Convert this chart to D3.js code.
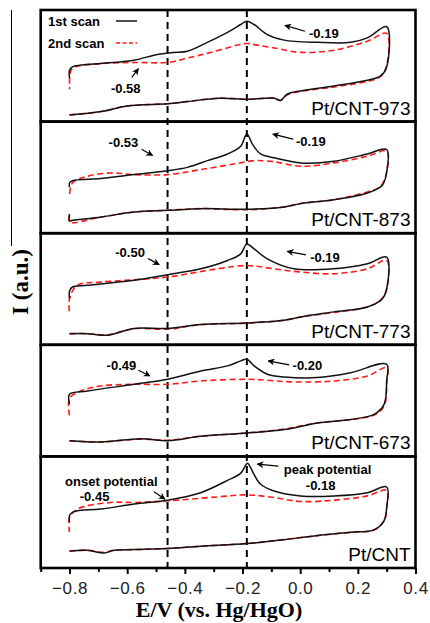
<!DOCTYPE html>
<html>
<head>
<meta charset="utf-8">
<script src="https://cdn.jsdelivr.net/npm/d3@7/dist/d3.min.js"></script>
<style>
  body { margin: 0; background: #fff; }
  svg { display: block; }
  .tick text { font-family: "Liberation Sans", Arial, sans-serif; }
</style>
</head>
<body>
<div id="chart"></div>
<script>
// panel names, top to bottom
var panelNames = ['Pt/CNT-973', 'Pt/CNT-873', 'Pt/CNT-773', 'Pt/CNT-673', 'Pt/CNT'];

// x axis ticks (E/V)
var majorTicks = [-0.8, -0.6, -0.4, -0.2, 0.0, 0.2, 0.4];
var minorTicks = [-0.9, -0.7, -0.5, -0.3, -0.1, 0.1, 0.3];

// guide lines: onset and peak potential
var guideLines = [-0.46, -0.185];

// CV loops, [E (V), I (a.u.)]: lower branch, right side, upper branch back to -0.8
var scan1_973 = [[-0.80,0.6],[-0.69,0.9],[-0.60,1.4],[-0.46,1.6],[-0.39,1.8],[-0.28,2.1],[-0.18,2.0],[-0.09,2.1],[-0.068,1.9],[-0.045,2.45],[0.0,2.75],[0.117,3.2],[0.233,3.7],[0.279,4.1],[0.30,4.9],[0.30,8.5],
  [0.233,7.5],[0.175,7.1],[0.06,7.1],[-0.056,7.3],[-0.114,7.8],[-0.16,8.7],[-0.185,9.0],[-0.206,8.7],[-0.252,8.0],[-0.322,7.1],[-0.391,6.3],[-0.44,6.2],[-0.50,6.0],[-0.576,5.5],[-0.692,5.2],[-0.79,4.9],[-0.80,4.6],[-0.80,3.9]];
var scan2_973 = [[-0.80,0.6],[-0.69,0.9],[-0.60,1.4],[-0.46,1.6],[-0.39,1.8],[-0.28,2.1],[-0.18,2.0],[-0.09,2.1],[-0.068,1.9],[-0.045,2.4],[0.0,2.7],[0.117,3.1],[0.233,3.6],[0.27,3.9],[0.295,4.6],[0.30,7.9],
  [0.233,7.2],[0.117,6.4],[0.0,6.2],[-0.09,6.6],[-0.16,6.9],[-0.185,7.0],[-0.31,6.2],[-0.39,5.7],[-0.46,5.3],[-0.576,5.3],[-0.69,5.2],[-0.78,4.9],[-0.795,4.6],[-0.80,2.9]];

var scan1_873 = [[-0.80,1.7],[-0.80,1.1],[-0.79,1.15],[-0.69,1.45],[-0.576,1.9],[-0.46,2.05],[-0.345,2.2],[-0.183,2.15],[-0.056,2.35],[0.0,2.65],[0.117,3.0],[0.233,3.6],[0.285,4.3],[0.30,5.5],[0.30,7.5],
  [0.233,7.1],[0.117,6.45],[0.002,6.3],[-0.079,6.7],[-0.137,7.1],[-0.166,8.0],[-0.185,8.9],[-0.206,7.8],[-0.252,7.1],[-0.322,6.5],[-0.391,5.9],[-0.46,5.6],[-0.576,5.25],[-0.69,4.9],[-0.79,4.7],[-0.80,4.5],[-0.80,4.1]];
var scan2_873 = [[-0.80,1.6],[-0.80,1.0],[-0.69,1.45],[-0.576,1.9],[-0.46,2.05],[-0.345,2.2],[-0.183,2.1],[-0.056,2.35],[0.0,2.65],[0.117,3.0],[0.233,3.7],[0.279,4.2],[0.30,5.5],[0.30,7.35],
  [0.233,6.9],[0.117,6.3],[0.002,6.0],[-0.091,6.4],[-0.16,6.5],[-0.229,6.2],[-0.345,5.7],[-0.46,5.25],[-0.576,5.25],[-0.657,5.4],[-0.738,5.1],[-0.79,4.5],[-0.80,3.3]];

var scan1_773 = [[-0.80,1.0],[-0.738,1.0],[-0.669,0.86],[-0.576,1.46],[-0.46,1.46],[-0.345,1.81],[-0.183,1.96],[-0.056,2.2],[0.002,2.5],[0.117,2.95],[0.233,3.39],[0.285,4.13],[0.30,5.0],[0.30,7.86],
  [0.233,7.26],[0.117,6.81],[-0.022,6.81],[-0.114,7.7],[-0.16,8.6],[-0.185,9.04],[-0.206,8.15],[-0.252,7.56],[-0.345,6.81],[-0.46,6.28],[-0.576,5.78],[-0.738,5.33],[-0.79,5.18],[-0.80,4.8],[-0.80,4.13]];
var scan2_773 = [[-0.80,1.0],[-0.738,1.0],[-0.669,0.9],[-0.576,1.45],[-0.46,1.4],[-0.345,1.8],[-0.183,1.95],[-0.056,2.2],[0.002,2.5],[0.117,2.9],[0.233,3.4],[0.279,4.0],[0.30,5.0],[0.30,7.56],
  [0.233,6.81],[0.117,6.37],[0.002,6.52],[-0.091,6.81],[-0.183,7.1],[-0.287,6.81],[-0.46,6.07],[-0.576,5.83],[-0.692,5.62],[-0.773,5.33],[-0.80,4.13],[-0.80,2.8]];

var scan1_673 = [[-0.80,1.41],[-0.692,1.29],[-0.553,1.59],[-0.46,1.41],[-0.345,1.8],[-0.183,2.1],[-0.056,2.4],[0.06,3.0],[0.175,3.31],[0.256,3.76],[0.291,4.66],[0.30,6.76],[0.30,8.26],
  [0.175,7.5],[0.06,7.06],[-0.056,7.12],[-0.114,7.36],[-0.16,8.11],[-0.185,8.71],[-0.206,8.56],[-0.252,8.11],[-0.345,7.66],[-0.46,6.91],[-0.576,6.46],[-0.738,5.86],[-0.80,5.56],[-0.80,4.66]];
var scan2_673 = [[-0.80,1.4],[-0.692,1.3],[-0.553,1.55],[-0.46,1.45],[-0.345,1.8],[-0.183,2.1],[-0.056,2.45],[0.06,3.0],[0.175,3.3],[0.256,3.7],[0.291,4.5],[0.30,6.5],[0.30,7.95],
  [0.233,7.2],[0.117,6.76],[-0.022,6.67],[-0.114,6.82],[-0.183,6.91],[-0.345,6.76],[-0.46,6.46],[-0.576,6.46],[-0.692,6.31],[-0.761,5.86],[-0.80,5.2],[-0.80,3.6]];

var scan1_cnt = [[-0.80,1.53],[-0.738,1.59],[-0.68,1.35],[-0.645,1.59],[-0.576,1.65],[-0.46,1.74],[-0.345,1.95],[-0.183,2.19],[-0.056,2.54],[0.06,2.92],[0.175,3.21],[0.256,3.42],[0.291,4.25],[0.30,5.42],[0.30,7.26],
  [0.233,6.75],[0.117,6.46],[0.002,6.46],[-0.091,6.9],[-0.137,7.5],[-0.16,8.38],[-0.172,9.0],[-0.183,9.38],[-0.206,8.5],[-0.252,7.85],[-0.345,6.75],[-0.46,6.08],[-0.576,5.73],[-0.692,5.28],[-0.773,5.13],[-0.79,4.98],[-0.80,4.7],[-0.80,4.1]];
var scan2_cnt = [[-0.80,1.5],[-0.738,1.6],[-0.68,1.4],[-0.645,1.6],[-0.576,1.65],[-0.46,1.75],[-0.345,1.95],[-0.183,2.2],[-0.056,2.55],[0.06,2.9],[0.175,3.2],[0.256,3.4],[0.291,4.2],[0.30,5.4],[0.30,6.96],
  [0.233,6.46],[0.117,6.08],[0.002,5.96],[-0.091,6.31],[-0.183,6.55],[-0.287,6.37],[-0.46,6.02],[-0.576,5.87],[-0.657,5.87],[-0.773,5.28],[-0.80,4.5],[-0.80,3.21]];

var firstScans = [scan1_973, scan1_873, scan1_773, scan1_673, scan1_cnt];
var secondScans = [scan2_973, scan2_873, scan2_773, scan2_673, scan2_cnt];

// annotation texts per panel: [panel, E, I, text]
var noteTexts = [
  [0, 0.082, 7.89, '-0.19'], [0, -0.605, 2.94, '-0.58'],
  [1, 0.037, 8.18, '-0.19'], [1, -0.613, 8.12, '-0.53'],
  [2, 0.086, 7.79, '-0.19'], [2, -0.590, 8.26, '-0.50'],
  [3, 0.025, 8.17, '-0.20'], [3, -0.620, 8.14, '-0.49'],
  [4, 0.095, 8.82, 'peak potential'], [4, 0.071, 7.43, '-0.18'],
  [4, -0.655, 7.79, 'onset potential'], [4, -0.713, 6.40, '-0.45']
];
// arrows: [panel, E tail, I tail, E head, I head]
var noteArrows = [
  [0, 0.017, 8.10, -0.053, 8.62], [0, -0.584, 3.97, -0.561, 4.74],
  [1, -0.024, 8.43, -0.095, 8.88], [1, -0.550, 7.52, -0.512, 6.97],
  [2, 0.020, 8.06, -0.045, 8.37], [2, -0.527, 7.72, -0.489, 7.19],
  [3, -0.038, 8.20, -0.111, 8.56], [3, -0.561, 7.72, -0.521, 7.21],
  [4, -0.076, 9.12, -0.149, 9.31], [4, -0.507, 6.84, -0.469, 6.17]
];

var W = 430, H = 623;
var m = {t:10, r:14.5, b:55, l:40.7};

var svg = d3.select('#chart').append('svg')
    .attr('width', W)
    .attr('height', H);

var defs = svg.append('defs');
defs.append('marker')
    .attr('id','head')
    .attr('viewBox','0 0 10 10')
    .attr('refX',9).attr('refY',5)
    .attr('markerWidth',7).attr('markerHeight',7)
    .attr('markerUnits','userSpaceOnUse')
    .attr('orient','auto')
  .append('path')
    .attr('d','M0,0 L10,5 L0,10 L3,5 Z')
    .attr('fill','#000');

var x = d3.scaleLinear().domain([-0.9, 0.4]).range([m.l, W - m.r]);
var panelY = d3.scaleBand().domain(panelNames).range([m.t, H - m.b]);

function yFor(i){
  var top = panelY(panelNames[i]);
  return d3.scaleLinear().domain([0, 10]).range([top + panelY.bandwidth(), top]);
}

var line = d3.line().curve(d3.curveCatmullRom.alpha(0.5));

// stray thin line at the far left of the figure
svg.append('line')
    .attr('x1',11.5).attr('x2',11.5)
    .attr('y1',m.t).attr('y2',246)
    .attr('stroke','#000').attr('stroke-width',1);

// guide lines over the full height
svg.selectAll('.guide')
    .data(guideLines)
  .enter().append('line')
    .attr('class','guide')
    .attr('x1',function(d){ return x(d); })
    .attr('x2',function(d){ return x(d); })
    .attr('y1',m.t).attr('y2',H - m.b)
    .attr('stroke','#000')
    .attr('stroke-width',2)
    .attr('stroke-dasharray','7,5');

var panels = svg.selectAll('.panel')
    .data(panelNames)
  .enter().append('g')
    .attr('class','panel');

panels.each(function(name, i){
  var g = d3.select(this);
  var y = yFor(i);
  line.x(function(d){ return x(d[0]); }).y(function(d){ return y(d[1]); });

  g.append('path')
      .attr('d', line(secondScans[i]))
      .attr('fill','none')
      .attr('stroke','#ff1a1a')
      .attr('stroke-width',1.6)
      .attr('stroke-dasharray','6,3.5');

  g.append('path')
      .attr('d', line(firstScans[i]))
      .attr('fill','none')
      .attr('stroke','#111')
      .attr('stroke-width',1.5);

  g.append('text')
      .attr('x', W - m.r - 5)
      .attr('y', panelY(name) + panelY.bandwidth() - 7)
      .attr('text-anchor','end')
      .attr('font-family','"Liberation Sans", Arial, sans-serif')
      .attr('font-size',19)
      .text(name);

  g.selectAll('.note')
      .data(noteTexts.filter(function(d){ return d[0] === i; }))
    .enter().append('text')
      .attr('class','note')
      .attr('x',function(d){ return x(d[1]); })
      .attr('y',function(d){ return y(d[2]); })
      .attr('dy','0.35em')
      .attr('text-anchor','middle')
      .attr('font-family','"Liberation Sans", Arial, sans-serif')
      .attr('font-weight','bold')
      .attr('font-size',13)
      .text(function(d){ return d[3]; });

  g.selectAll('.arrow')
      .data(noteArrows.filter(function(d){ return d[0] === i; }))
    .enter().append('line')
      .attr('class','arrow')
      .attr('x1',function(d){ return x(d[1]); })
      .attr('y1',function(d){ return y(d[2]); })
      .attr('x2',function(d){ return x(d[3]); })
      .attr('y2',function(d){ return y(d[4]); })
      .attr('stroke','#000')
      .attr('stroke-width',1.2)
      .attr('marker-end','url(#head)');
});

// panel frames
svg.selectAll('.frame')
    .data(panelNames)
  .enter().append('rect')
    .attr('class','frame')
    .attr('x', m.l)
    .attr('y', function(d){ return panelY(d); })
    .attr('width', W - m.r - m.l)
    .attr('height', panelY.bandwidth())
    .attr('fill','none')
    .attr('stroke','#000')
    .attr('stroke-width',2.6);

// legend
var legend = svg.append('g').attr('font-family','"Liberation Sans", Arial, sans-serif')
    .attr('font-weight','bold').attr('font-size',13);
legend.append('text').attr('x',48).attr('y',25.5).text('1st scan');
legend.append('text').attr('x',48).attr('y',47.5).text('2nd scan');
legend.append('line').attr('x1',116).attr('x2',137).attr('y1',21).attr('y2',21)
    .attr('stroke','#111').attr('stroke-width',1.5);
legend.append('line').attr('x1',116).attr('x2',137).attr('y1',43).attr('y2',43)
    .attr('stroke','#ff1a1a').attr('stroke-width',1.6).attr('stroke-dasharray','4,2.5');

// bottom axis, major and minor ticks
var axisG = svg.append('g')
    .attr('transform','translate(0,' + (H - m.b) + ')');
axisG.call(d3.axisBottom(x).tickValues(majorTicks).tickSize(6).tickPadding(8)
    .tickFormat(d3.format('.1f')));
axisG.select('.domain').remove();
axisG.selectAll('.tick line').attr('stroke-width',2);
axisG.selectAll('.tick text').attr('font-size',17).attr('letter-spacing',0.6).attr('fill','#222');

var minorG = svg.append('g')
    .attr('transform','translate(0,' + (H - m.b) + ')');
minorG.call(d3.axisBottom(x).tickValues(minorTicks).tickSize(4).tickFormat(''));
minorG.select('.domain').remove();
minorG.selectAll('.tick line').attr('stroke-width',2);

// axis titles
svg.append('text')
    .attr('x', 219)
    .attr('y', 617)
    .attr('text-anchor','middle')
    .attr('font-family','"Liberation Serif", "Times New Roman", serif')
    .attr('font-weight','bold')
    .attr('font-size',22)
    .text('E/V (vs. Hg/HgO)');

svg.append('text')
    .attr('transform','translate(28,282) rotate(-90)')
    .attr('text-anchor','middle')
    .attr('font-family','"Liberation Serif", "Times New Roman", serif')
    .attr('font-weight','bold')
    .attr('font-size',23)
    .text('I (a.u.)');
</script>
</body>
</html>
